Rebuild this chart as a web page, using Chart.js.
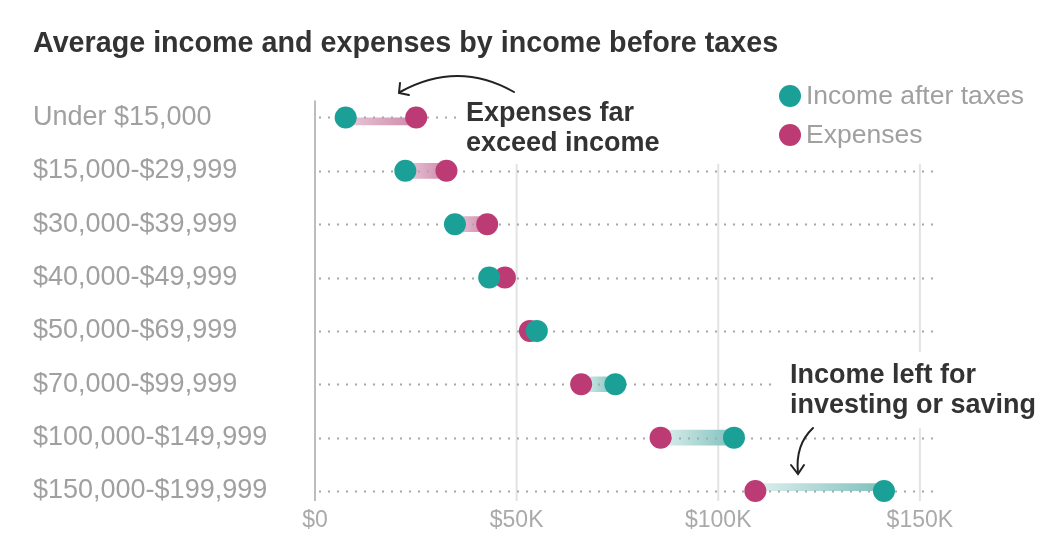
<!DOCTYPE html>
<html>
<head>
<meta charset="utf-8">
<script src="https://cdn.jsdelivr.net/npm/chart.js@4.4.1/dist/chart.umd.min.js"></script>
<style>
  html, body { margin: 0; padding: 0; background: #fff; }
  #wrap { width: 1048px; height: 549px; }
</style>
</head>
<body>
<div id="wrap"><canvas id="chart"></canvas></div>
<script>
const categories = [
    "Under $15,000",
    "$15,000-$29,999",
    "$30,000-$39,999",
    "$40,000-$49,999",
    "$50,000-$69,999",
    "$70,000-$99,999",
    "$100,000-$149,999",
    "$150,000-$199,999"
];
const incomeAfterTaxes = [7600, 22400, 34700, 43200, 55000, 74500, 103900, 141100];
const expenses = [25100, 32600, 42700, 47100, 53300, 66000, 85700, 109200];
const xTicks = [0, 50000, 100000, 150000];
const xTickLabels = ["$0", "$50K", "$100K", "$150K"];

const TEAL = "#1ba098";
const MAGENTA = "#bc3b74";
const LABEL_FONT = "'Liberation Sans', Arial, sans-serif";

// gap bar, light on the left and stronger toward whichever dot is on the right
function gapColor(context) {
    const chart = context.chart;
    const x = chart.scales.x;
    if (!chart.chartArea || !x) return "rgba(0,0,0,0)";
    const i = context.dataIndex;
    const lo = Math.min(incomeAfterTaxes[i], expenses[i]);
    const hi = Math.max(incomeAfterTaxes[i], expenses[i]);
    const g = chart.ctx.createLinearGradient(x.getPixelForValue(lo), 0, x.getPixelForValue(hi), 0);
    if (expenses[i] > incomeAfterTaxes[i]) {
        g.addColorStop(0, "rgba(232, 196, 213, 0.95)");
        g.addColorStop(1, "rgba(206, 136, 170, 1)");
    } else {
        g.addColorStop(0, "rgba(220, 238, 237, 0.95)");
        g.addColorStop(1, "rgba(124, 192, 188, 1)");
    }
    return g;
}

const decorations = {
    id: "decorations",
    beforeDatasetsDraw(chart) {
        const { ctx, scales: { x, y } } = chart;
        const yTop = y.getPixelForValue(0);
        const yBottom = y.getPixelForValue(categories.length - 1);
        ctx.save();
        xTicks.forEach((v, k) => {
            const px = x.getPixelForValue(v);
            ctx.beginPath();
            ctx.lineWidth = 2;
            ctx.strokeStyle = k === 0 ? "#bdbdbd" : "#e3e3e3";
            ctx.moveTo(px, k === 0 ? yTop - 17 : y.getPixelForValue(1) - 7);
            ctx.lineTo(px, yBottom + 10);
            ctx.stroke();
        });
        // white space behind the lower note
        ctx.fillStyle = "#fff";
        ctx.fillRect(780, 352, 262, 76);
        ctx.restore();
    },
    afterDatasetDraw(chart, args) {
        if (args.index !== 0) return;
        const { ctx, scales: { x, y } } = chart;
        const stops = { 0: 460, 5: 772 };
        ctx.save();
        ctx.strokeStyle = "#a8a8a8";
        ctx.lineWidth = 2;
        ctx.setLineDash([2, 7]);
        categories.forEach((c, i) => {
            const py = Math.round(y.getPixelForValue(i)) + 0.5;
            ctx.beginPath();
            ctx.moveTo(x.getPixelForValue(0) + 4, py);
            ctx.lineTo(stops[i] || x.right, py);
            ctx.stroke();
        });
        ctx.restore();
    },
    afterDraw(chart) {
        const ctx = chart.ctx;
        ctx.save();

        // legend
        const items = [
            [chart.data.datasets[2].label, TEAL, 96],
            [chart.data.datasets[1].label, MAGENTA, 135]
        ];
        ctx.font = "26.5px " + LABEL_FONT;
        ctx.textBaseline = "middle";
        items.forEach(([label, color, yy]) => {
            ctx.fillStyle = color;
            ctx.beginPath();
            ctx.arc(790, yy, 11, 0, Math.PI * 2);
            ctx.fill();
            ctx.fillStyle = "#a0a0a0";
            ctx.fillText(label, 806, yy + 1);
        });

        // notes
        ctx.fillStyle = "#333";
        ctx.font = "bold 27px " + LABEL_FONT;
        ctx.textBaseline = "alphabetic";
        ctx.fillText("Expenses far", 466, 121);
        ctx.fillText("exceed income", 466, 151);
        ctx.fillText("Income left for", 790, 383);
        ctx.fillText("investing or saving", 790, 413);

        // arrows
        ctx.strokeStyle = "#222";
        ctx.lineWidth = 2;
        ctx.lineCap = "round";
        ctx.beginPath();
        ctx.moveTo(514, 92);
        ctx.quadraticCurveTo(458, 60, 400, 92);
        ctx.stroke();
        ctx.beginPath();
        ctx.moveTo(400, 83);
        ctx.lineTo(399, 93);
        ctx.lineTo(409, 95);
        ctx.stroke();

        ctx.beginPath();
        ctx.moveTo(813, 428);
        ctx.quadraticCurveTo(795, 445, 798, 473);
        ctx.stroke();
        ctx.beginPath();
        ctx.moveTo(791, 465);
        ctx.lineTo(798, 474);
        ctx.lineTo(804, 465);
        ctx.stroke();

        ctx.restore();
    }
};

new Chart(document.getElementById("chart"), {
    type: "bar",
    data: {
        labels: categories,
        datasets: [
            {
                label: "Gap",
                data: categories.map((c, i) => [
                    Math.min(incomeAfterTaxes[i], expenses[i]),
                    Math.max(incomeAfterTaxes[i], expenses[i])
                ]),
                backgroundColor: gapColor,
                barThickness: 15,
                borderSkipped: false,
                order: 3
            },
            {
                type: "line",
                label: "Expenses",
                data: expenses.map((v, i) => ({ x: v, y: categories[i] })),
                showLine: false,
                pointRadius: 11,
                pointBorderWidth: 0,
                pointBackgroundColor: MAGENTA,
                clip: false,
                order: 2
            },
            {
                type: "line",
                label: "Income after taxes",
                data: incomeAfterTaxes.map((v, i) => ({ x: v, y: categories[i] })),
                showLine: false,
                pointRadius: 11,
                pointBorderWidth: 0,
                pointBackgroundColor: TEAL,
                clip: false,
                order: 1
            }
        ]
    },
    options: {
        indexAxis: "y",
        responsive: true,
        maintainAspectRatio: false,
        animation: false,
        events: [],
        layout: {
            padding: { left: 33, right: 112, top: 0, bottom: 0 }
        },
        plugins: {
            legend: { display: false },
            tooltip: { enabled: false },
            title: {
                display: true,
                text: "Average income and expenses by income before taxes",
                align: "start",
                color: "#333",
                font: { family: LABEL_FONT, size: 28.7, weight: "bold", lineHeight: 1.2 },
                padding: { top: 27, bottom: 56 }
            }
        },
        scales: {
            x: {
                type: "linear",
                min: 0,
                max: 154000,
                grid: { display: false, drawTicks: false, tickLength: 0 },
                border: { display: false },
                afterBuildTicks: scale => {
                    scale.ticks = xTicks.map(v => ({ value: v }));
                },
                afterFit: scale => { scale.height = 58; },
                ticks: {
                    padding: 16,
                    color: "#aaa",
                    font: { family: LABEL_FONT, size: 23 },
                    callback: (v) => xTickLabels[xTicks.indexOf(v)]
                }
            },
            y: {
                type: "category",
                offset: false,
                grid: { display: false, drawTicks: false },
                border: { display: false },
                afterFit: scale => { scale.width = 282; },
                ticks: {
                    crossAlign: "far",
                    color: "#a0a0a0",
                    font: { family: LABEL_FONT, size: 27 }
                }
            }
        }
    },
    plugins: [decorations]
});
</script>
</body>
</html>
